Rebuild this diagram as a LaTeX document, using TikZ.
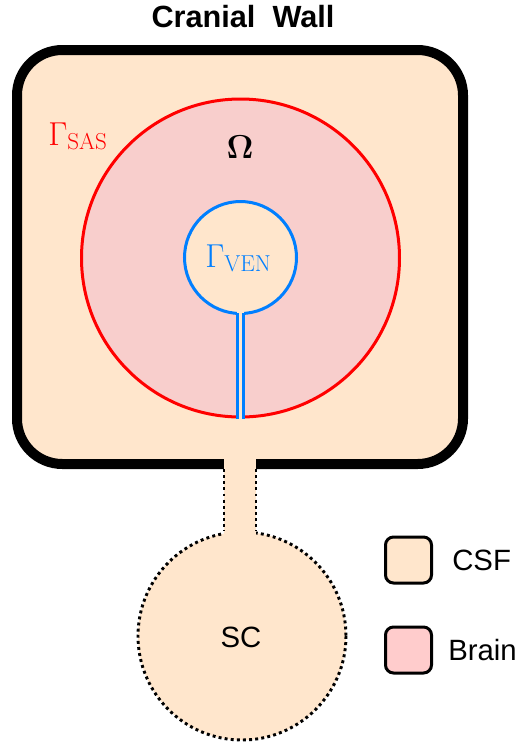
\documentclass[tikz,border=0pt]{standalone}
\usepackage[no-math]{fontspec}
\setmainfont{Liberation Sans}
\definecolor{csf}{HTML}{FFE6CC}
\definecolor{brain}{HTML}{F8CECC}
\definecolor{brainleg}{HTML}{FFCCCC}
\definecolor{ven}{HTML}{007FFF}
\tikzset{
  wallline/.style={line width=7.5pt, draw=black, fill=csf, rounded corners=34pt},
  sasline/.style={line width=2.25pt, draw=red, fill=brain},
  venline/.style={line width=2.25pt, draw=ven},
  dotline/.style={line width=2.2pt, draw=black, dash pattern=on 2.2pt off 2.4pt},
  legbox/.style={draw=black, line width=2.25pt, rounded corners=6pt, minimum width=34.5pt, minimum height=34.5pt, inner sep=0pt},
  bigtxt/.style={font=\fontsize{22}{26}\selectfont, inner sep=0pt},
}
\begin{document}
\begin{tikzpicture}[x=0.75pt,y=-0.75pt]
\useasboundingbox (0,0) rectangle (517,744);
% cranial wall
\path[wallline] (17,50) rectangle (463,464);
% brain
\path[sasline] (240.5,258) circle[radius=159];
% ventricle
\path[venline, fill=csf] (240.5,257.5) circle[radius=56];
\fill[csf] (237.2,305) rectangle (243.8,423);
\draw[venline] (237.2,313.4) -- (237.2,418.5);
\draw[venline] (243.8,313.4) -- (243.8,418.5);
% spinal canal
\path[dotline, fill=csf] (242,636) circle[radius=104];
\fill[csf] (224,452) rectangle (256,545);
\draw[dotline] (224,469) -- (224,531);
\draw[dotline] (256,469) -- (256,531);
% texts
\node[bigtxt, font=\fontsize{23}{27}\selectfont\bfseries] (ttl) at (243,17) {Cranial\ \ Wall};
\node[bigtxt, anchor=base, font=\fontsize{26}{30}\selectfont] (om) at (240,158) {$\mathbf{\Omega}$};
\node[bigtxt, anchor=base west, text=red, font=\fontsize{23}{27}\selectfont] (gsas) at (48,145) {$\Gamma_{\mathrm{SAS}}$};
\node[bigtxt, anchor=base west, text=ven, font=\fontsize{23}{27}\selectfont] (gven) at (205,267) {$\Gamma_{\mathrm{VEN}}$};
\node[bigtxt] (sc) at (241,637) {SC};
% legend
\node[legbox, fill=csf] (csfbox) at (408.5,560) {};
\node[legbox, fill=brainleg] (brainbox) at (408.5,650) {};
\node[bigtxt, anchor=west] (csftxt) at (452,560) {CSF};
\node[bigtxt, anchor=west] (braintxt) at (448,650) {Brain};
\end{tikzpicture}
\end{document}
